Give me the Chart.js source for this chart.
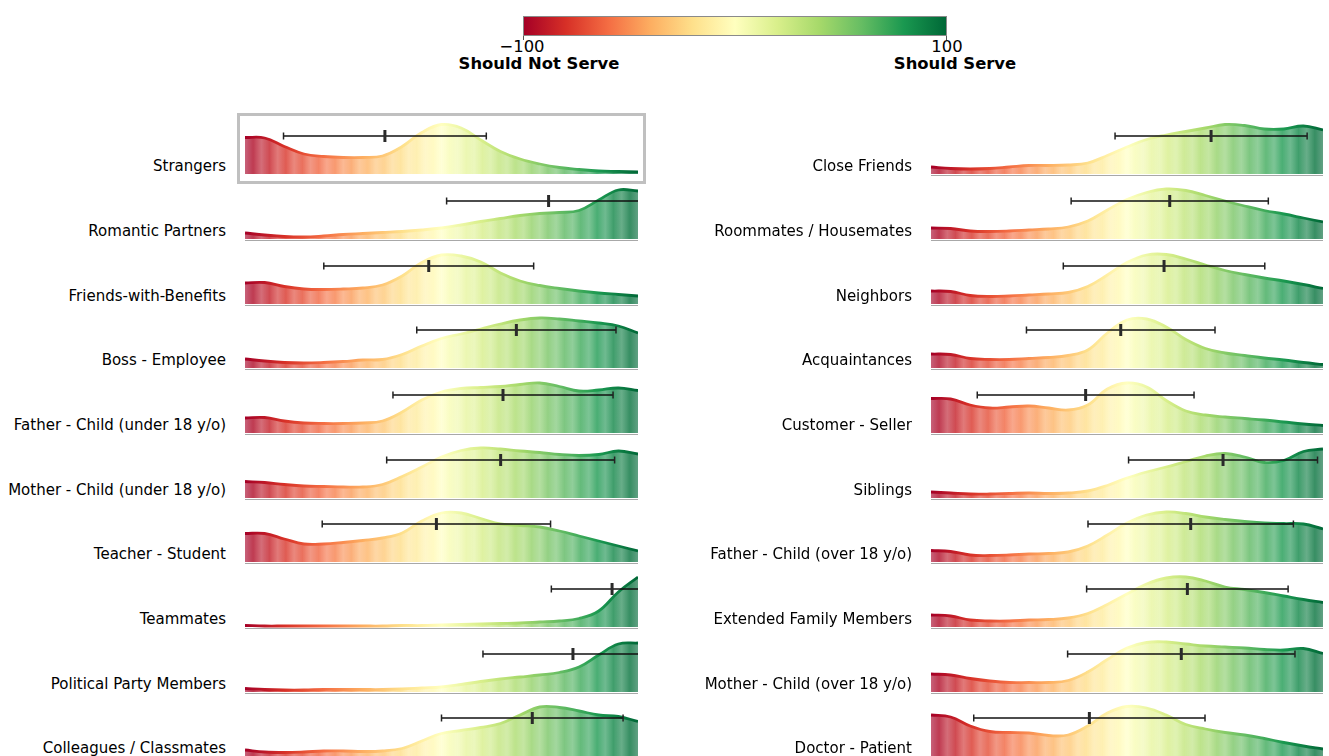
<!DOCTYPE html>
<html>
<head>
<meta charset="utf-8">
<script src="https://cdn.jsdelivr.net/npm/chart.js@4.4.1/dist/chart.umd.min.js"></script>
<style>
  body { margin: 0; background: #fff; width: 1329px; height: 756px; overflow: hidden; position: relative; font-family: "DejaVu Sans", sans-serif; }
  canvas { position: absolute; }
  .lbl { position: absolute; font-size: 15px; color: #000; text-align: right; white-space: nowrap; line-height: 18px; transform: translateY(-50%); }
  .cb-text { position: absolute; font-size: 16.4px; color: #000; white-space: nowrap; line-height: 20px; transform: translate(-50%, -50%); }
  .cb-text.bold { font-weight: bold; }
  #colorbar { position: absolute; left: 523px; top: 16px; width: 424px; height: 20px; box-sizing: border-box; border: 1px solid #8a8a8a; }
  .cb-tick { position: absolute; top: 36px; width: 1px; height: 4px; background: #555; }
  #focus { position: absolute; left: 237px; top: 113px; width: 409px; height: 71px; box-sizing: border-box; border: 3px solid #c0c0c0; }
</style>
</head>
<body>
<div id="colorbar"></div>
<div class="cb-tick" style="left:523px"></div>
<div class="cb-tick" style="left:946px"></div>
<div class="cb-text" style="left:522px;top:47px">&minus;100</div>
<div class="cb-text" style="left:947px;top:47px">100</div>
<div class="cb-text bold" style="left:539px;top:64px">Should Not Serve</div>
<div class="cb-text bold" style="left:955px;top:64px">Should Serve</div>
<div id="focus"></div>

<script>
// score axis where the curves were read (-100 .. 100)
const scoreGrid = [-100, -90, -80, -70, -60, -50, -40, -30, -20, -10, 0, 10, 20, 30, 40, 50, 60, 70, 80, 90, 100];

// left column, relative density (peak = 1)
const dStrangers   = [.73, .72, .55, .40, .35, .33, .33, .36, .55, .83, .99, .92, .68, .45, .30, .20, .13, .09, .06, .05, .04];
const dRomantic    = [.12, .08, .05, .04, .06, .09, .11, .13, .15, .18, .22, .28, .35, .41, .47, .51, .53, .57, .78, .98, .96];
const dFwb         = [.42, .43, .35, .30, .29, .30, .32, .38, .56, .83, .98, .96, .84, .62, .46, .37, .31, .26, .22, .19, .16];
const dBoss        = [.18, .14, .11, .10, .11, .13, .16, .17, .27, .44, .59, .68, .78, .88, .96, 1.0, .98, .94, .90, .84, .70];
const dFatherU18   = [.30, .31, .24, .20, .19, .19, .20, .24, .42, .66, .82, .89, .91, .93, .97, 1.0, .93, .84, .86, .90, .85];
const dMotherU18   = [.33, .31, .27, .24, .23, .22, .22, .27, .43, .62, .82, .95, 1.0, .98, .94, .91, .87, .85, .87, .94, .88];
const dTeacher     = [.57, .57, .46, .36, .36, .39, .43, .48, .58, .82, .98, .98, .87, .76, .73, .70, .62, .52, .42, .32, .22];
const dTeammates   = [.03, .02, .02, .02, .02, .02, .02, .02, .03, .03, .04, .05, .06, .07, .08, .10, .12, .17, .32, .70, 1.0];
const dPolitical   = [.07, .05, .04, .04, .05, .05, .05, .05, .06, .08, .10, .15, .21, .26, .30, .34, .39, .50, .74, .96, .98];
const dColleagues  = [.12, .08, .07, .08, .10, .10, .09, .10, .15, .30, .45, .51, .57, .65, .82, .98, .97, .90, .82, .79, .69];

// right column
const dCloseFriends = [.14, .11, .10, .11, .14, .17, .17, .18, .22, .37, .54, .69, .78, .85, .92, .99, .97, .90, .90, .96, .88];
const dRoommates    = [.22, .21, .16, .15, .16, .18, .20, .24, .36, .58, .79, .93, 1.0, .97, .87, .76, .66, .57, .50, .42, .34];
const dNeighbors    = [.26, .25, .17, .15, .16, .18, .20, .23, .35, .58, .83, .98, .99, .90, .78, .67, .59, .52, .46, .39, .31];
const dAcquaint     = [.28, .27, .19, .17, .17, .19, .21, .25, .36, .70, .96, .98, .82, .57, .39, .30, .25, .20, .16, .11, .07];
const dCustomer     = [.69, .68, .56, .50, .52, .54, .50, .46, .56, .88, 1.0, .92, .65, .44, .36, .32, .29, .26, .22, .18, .15];
const dSiblings     = [.12, .10, .08, .08, .09, .10, .09, .10, .14, .25, .40, .52, .62, .73, .84, .89, .82, .71, .75, .93, .98];
const dFatherO18    = [.23, .21, .14, .13, .14, .16, .17, .20, .32, .54, .78, .94, 1.0, .97, .90, .85, .81, .78, .77, .76, .66];
const dExtended     = [.24, .22, .14, .12, .12, .14, .15, .18, .27, .45, .66, .86, .98, 1.0, .92, .80, .75, .69, .62, .55, .49];
const dMotherO18    = [.36, .34, .27, .22, .19, .19, .19, .23, .40, .65, .88, .99, 1.0, .96, .92, .90, .88, .85, .84, .87, .77];
const dDoctor       = [.82, .78, .60, .49, .47, .46, .41, .42, .60, .86, .99, .96, .82, .63, .54, .47, .42, .35, .27, .20, .14];

const leftNames  = ['Strangers', 'Romantic Partners', 'Friends-with-Benefits', 'Boss - Employee', 'Father - Child (under 18 y/o)',
                    'Mother - Child (under 18 y/o)', 'Teacher - Student', 'Teammates', 'Political Party Members', 'Colleagues / Classmates'];
const leftCurves = [dStrangers, dRomantic, dFwb, dBoss, dFatherU18, dMotherU18, dTeacher, dTeammates, dPolitical, dColleagues];
const leftMeans  = [-28.8, 54.5, -6.5, 38.1, 31.3, 30.1, -2.6, 86.8, 66.9, 46.2];
const leftStds   = [51.6, 51.9, 53.4, 50.7, 56.0, 58.0, 58.1, 30.9, 45.8, 46.2];

const rightNames  = ['Close Friends', 'Roommates / Housemates', 'Neighbors', 'Acquaintances', 'Customer - Seller',
                     'Siblings', 'Father - Child (over 18 y/o)', 'Extended Family Members', 'Mother - Child (over 18 y/o)', 'Doctor - Patient'];
const rightCurves = [dCloseFriends, dRoommates, dNeighbors, dAcquaint, dCustomer, dSiblings, dFatherO18, dExtended, dMotherO18, dDoctor];
const rightMeans  = [42.9, 21.8, 18.9, -3.2, -21.1, 49.0, 32.5, 30.8, 27.7, -19.2];
const rightStds   = [49.0, 50.3, 51.4, 48.1, 55.3, 48.2, 52.4, 51.4, 58.0, 59.0];

const rdylgn = ['#a50026', '#d73027', '#f46d43', '#fdae61', '#fee08b', '#ffffbf', '#d9ef8b', '#a6d96a', '#66bd63', '#1a9850', '#006837'];

const ROW0 = 174.3;
const ROW_STEP = 64.68;
const ERR_Y = 0.76;
const PAD = 5;

document.getElementById('colorbar').style.background = 'linear-gradient(to right, ' + rdylgn.join(', ') + ')';

function hex_to_rgb(h) {
  return [parseInt(h.slice(1, 3), 16), parseInt(h.slice(3, 5), 16), parseInt(h.slice(5, 7), 16)];
}

function cmap(t, alpha) {
  const pos = Math.min(Math.max(t, 0), 1) * (rdylgn.length - 1);
  const i = Math.min(Math.floor(pos), rdylgn.length - 2);
  const f = pos - i;
  const a = hex_to_rgb(rdylgn[i]);
  const b = hex_to_rgb(rdylgn[i + 1]);
  const c = a.map((v, k) => Math.round(v + (b[k] - v) * f));
  return `rgba(${c[0]},${c[1]},${c[2]},${alpha})`;
}

function draw_panel(name, curve, mean, std, col_left, area_w, row, boxed) {
  const base = Math.round(ROW0 + row * ROW_STEP);

  const label = document.createElement('div');
  label.className = 'lbl';
  label.textContent = name;
  label.style.left = '0px';
  label.style.width = (col_left - 19) + 'px';
  label.style.top = (base - 8) + 'px';
  document.body.appendChild(label);

  const canvas = document.createElement('canvas');
  canvas.width = area_w + 2 * PAD;
  canvas.height = 62 + 2 * PAD;
  canvas.style.left = (col_left - PAD) + 'px';
  canvas.style.top = (base - 60 - PAD) + 'px';
  document.body.appendChild(canvas);

  const ctx = canvas.getContext('2d');
  const fill_grad = ctx.createLinearGradient(PAD, 0, PAD + area_w, 0);
  const bands = 48;
  for (let i = 0; i <= bands; i++) {
    fill_grad.addColorStop(i / bands, cmap(i / bands, i % 2 ? 0.8 : 0.62));
  }
  const line_grad = ctx.createLinearGradient(PAD, 0, PAD + area_w, 0);
  for (let i = 0; i <= 20; i++) {
    line_grad.addColorStop(i / 20, cmap(i / 20, 1));
  }

  const datasets = [
    {
      data: [{ x: mean, y: ERR_Y }],
      showLine: false,
      pointStyle: 'line', pointRotation: 90, pointRadius: 6,
      pointBorderWidth: 3, pointBorderColor: '#2a2a2a', pointBackgroundColor: '#2a2a2a',
      order: 0
    },
    {
      data: [{ x: mean - std, y: ERR_Y }, { x: mean + std, y: ERR_Y }],
      borderColor: '#111', borderWidth: 1.7,
      pointStyle: 'line', pointRotation: 90, pointRadius: 3.5,
      pointBorderWidth: 1.5, pointBorderColor: '#222', pointBackgroundColor: '#222',
      order: 1
    },
    {
      data: scoreGrid.map((x, i) => ({ x: x, y: curve[i] })),
      borderColor: line_grad, backgroundColor: fill_grad,
      fill: 'origin', borderWidth: 2.8, pointRadius: 0,
      tension: 0.4,
      order: 2
    }
  ];

  if (!boxed) {
    datasets.push({
      data: [{ x: -100, y: -0.04 }, { x: 100, y: -0.04 }],
      borderColor: '#a8a8a8', borderWidth: 2, pointRadius: 0,
      order: 3
    });
  }

  new Chart(canvas, {
    type: 'line',
    data: { datasets: datasets },
    options: {
      responsive: false,
      animation: false,
      events: [],
      layout: { padding: PAD, autoPadding: false },
      plugins: { legend: { display: false }, tooltip: { enabled: false } },
      scales: {
        x: { type: 'linear', min: -100, max: 100, display: false },
        y: { min: -0.04, max: 1.2, display: false }
      }
    }
  });
}

for (let i = 0; i < leftNames.length; i++) {
  draw_panel(leftNames[i], leftCurves[i], leftMeans[i], leftStds[i], 245, 393, i, i == 0);
}

for (let i = 0; i < rightNames.length; i++) {
  draw_panel(rightNames[i], rightCurves[i], rightMeans[i], rightStds[i], 931, 392, i, false);
}
</script>
</body>
</html>
